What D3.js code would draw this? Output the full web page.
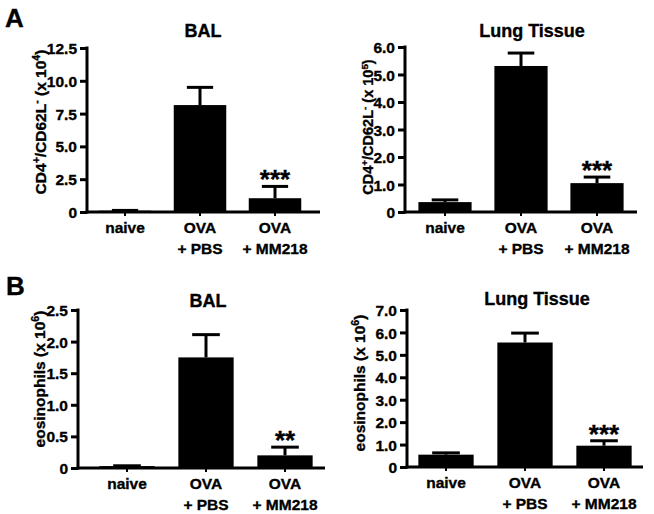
<!DOCTYPE html>
<html>
<head>
<meta charset="utf-8">
<script src="https://cdn.jsdelivr.net/npm/d3@7/dist/d3.min.js"></script>
<style>
  html, body { margin: 0; padding: 0; background: #fff; }
  svg { display: block; }
  text { font-family: "Liberation Sans", Arial, Helvetica, sans-serif; font-weight: bold; fill: #000; stroke: #000; stroke-width: 0.35px; }
</style>
</head>
<body>
<svg id="chart" width="654" height="514"></svg>
<script>
// ---------- data ----------
const groupLine1 = ["naive", "OVA", "OVA"];
const groupLine2 = ["", "+ PBS", "+ MM218"];

const balCD4Mean = [0.1, 8.15, 1.05];
const balCD4Sem  = [0.02, 1.35, 0.9];
const balCD4Sig  = ["", "", "***"];
const balCD4Ticks = [0, 2.5, 5, 7.5, 10, 12.5];

const lungCD4Mean = [0.36, 5.31, 1.05];
const lungCD4Sem  = [0.08, 0.47, 0.22];
const lungCD4Sig  = ["", "", "***"];
const lungCD4Ticks = [0, 1, 2, 3, 4, 5, 6];

const balEosMean = [0.03, 1.75, 0.2];
const balEosSem  = [0.005, 0.36, 0.13];
const balEosSig  = ["", "", "**"];
const balEosTicks = [0, 0.5, 1, 1.5, 2, 2.5];

const lungEosMean = [0.55, 5.55, 0.95];
const lungEosSem  = [0.08, 0.42, 0.22];
const lungEosSig  = ["", "", "***"];
const lungEosTicks = [0, 1, 2, 3, 4, 5, 6, 7];

// ---------- layout ----------
const svg = d3.select("#chart");
const fmt = v => v === 0 ? "0" : v.toFixed(1);

function panel(cfg) {
  const g = svg.append("g");
  const x = d3.scaleBand().domain(d3.range(3)).range([cfg.r0, cfg.r1]).paddingInner(0.3).paddingOuter(0.15);
  const y = d3.scaleLinear().domain([0, cfg.max]).range([cfg.yZero, cfg.yTop]);
  const bw = x.bandwidth();

  // bars
  g.selectAll("rect.bar").data(cfg.mean).join("rect")
    .attr("x", (d, i) => x(i)).attr("width", bw)
    .attr("y", d => y(d)).attr("height", d => y(0) - y(d))
    .attr("fill", "#000");

  // error bars (upper only)
  cfg.mean.forEach((m, i) => {
    const cx = x(i) + bw / 2;
    const top = m + cfg.sem[i];
    g.append("line").attr("x1", cx).attr("x2", cx).attr("y1", y(m)).attr("y2", y(top))
      .attr("stroke", "#000").attr("stroke-width", 3);
    g.append("line").attr("x1", cx - bw * 0.25).attr("x2", cx + bw * 0.25).attr("y1", y(top)).attr("y2", y(top))
      .attr("stroke", "#000").attr("stroke-width", 3);
    if (cfg.sig[i]) {
      g.append("text").attr("x", cx).attr("y", y(top) + 2)
        .attr("text-anchor", "middle").attr("font-size", 26).text(cfg.sig[i]);
    }
  });

  // y axis
  const ya = g.append("g").attr("transform", `translate(${cfg.axisX},0)`)
    .call(d3.axisLeft(y).tickValues(cfg.ticks).tickFormat(fmt).tickSize(7).tickSizeOuter(0).tickPadding(3));
  ya.attr("font-family", null).attr("font-size", null);
  ya.select(".domain").attr("stroke-width", 3).attr("d", `M0,${cfg.yZero + 1.5}V${cfg.yTop - 1.5}`);
  ya.selectAll(".tick line").attr("stroke-width", 3);
  ya.selectAll(".tick text").attr("font-size", 15.5).attr("dy", "0.36em");

  // x axis
  const xa = g.append("g").attr("transform", `translate(0,${cfg.yZero})`)
    .call(d3.axisBottom(x).tickSize(4).tickSizeOuter(0).tickFormat(() => ""));
  xa.select(".domain").attr("stroke-width", 3).attr("d", `M${cfg.axisX - 1.5},0H${cfg.xEnd}`);
  xa.selectAll(".tick line").attr("stroke-width", 2);
  xa.selectAll(".tick text").remove();
  d3.range(3).forEach(i => {
    const cx = x(i) + bw / 2;
    const t = g.append("text").attr("text-anchor", "middle").attr("font-size", 15.5);
    t.append("tspan").attr("x", cx).attr("y", cfg.yZero + 21).text(groupLine1[i]);
    if (groupLine2[i]) t.append("tspan").attr("x", cx).attr("y", cfg.yZero + 42).text(groupLine2[i]);
  });

  // title
  g.append("text").attr("x", cfg.titleX).attr("y", cfg.titleY).attr("text-anchor", "middle")
    .attr("font-size", 18).text(cfg.title);

  // y label
  const yl = g.append("text").attr("transform", `translate(${cfg.labelX},${cfg.labelY}) rotate(-90)`)
    .attr("text-anchor", "middle").attr("font-size", cfg.labelSize);
  cfg.label.forEach(p => {
    const s = yl.append("tspan").text(p.t);
    if (p.sup) s.attr("baseline-shift", "super").attr("font-size", cfg.labelSize * 0.68);
  });
}

panel({ mean: balCD4Mean, sem: balCD4Sem, sig: balCD4Sig, ticks: balCD4Ticks, max: 12.5,
  axisX: 87, xEnd: 320, r0: 87.5, r1: 312.5, yTop: 48, yZero: 212,
  title: "BAL", titleX: 203, titleY: 37, labelX: 46, labelY: 122, labelSize: 15.5,
  label: [{t:"CD4"},{t:"+",sup:1},{t:"/CD62L"},{t:"-",sup:1},{t:" (x 10"},{t:"4",sup:1},{t:")"}] });

panel({ mean: lungCD4Mean, sem: lungCD4Sem, sig: lungCD4Sig, ticks: lungCD4Ticks, max: 6,
  axisX: 405, xEnd: 637, r0: 407, r1: 635, yTop: 47, yZero: 212,
  title: "Lung Tissue", titleX: 532, titleY: 37, labelX: 373, labelY: 127, labelSize: 14.5,
  label: [{t:"CD4"},{t:"+",sup:1},{t:"/CD62L"},{t:"-",sup:1},{t:" (x 10"},{t:"5",sup:1},{t:")"}] });

panel({ mean: balEosMean, sem: balEosSem, sig: balEosSig, ticks: balEosTicks, max: 2.5,
  axisX: 78, xEnd: 325, r0: 87.5, r1: 324.5, yTop: 310, yZero: 468,
  title: "BAL", titleX: 208, titleY: 307, labelX: 45, labelY: 379, labelSize: 15.5,
  label: [{t:"eosinophils (x 10"},{t:"6",sup:1},{t:")"}] });

panel({ mean: lungEosMean, sem: lungEosSem, sig: lungEosSig, ticks: lungEosTicks, max: 7,
  axisX: 407, xEnd: 643, r0: 406.5, r1: 643.5, yTop: 310, yZero: 467,
  title: "Lung Tissue", titleX: 537, titleY: 305, labelX: 365, labelY: 383, labelSize: 15.5,
  label: [{t:"eosinophils (x 10"},{t:"6",sup:1},{t:")"}] });

// panel letters
svg.append("text").attr("x", 5).attr("y", 27).attr("font-size", 26).text("A");
svg.append("text").attr("x", 6).attr("y", 295).attr("font-size", 26).text("B");
</script>
</body>
</html>
